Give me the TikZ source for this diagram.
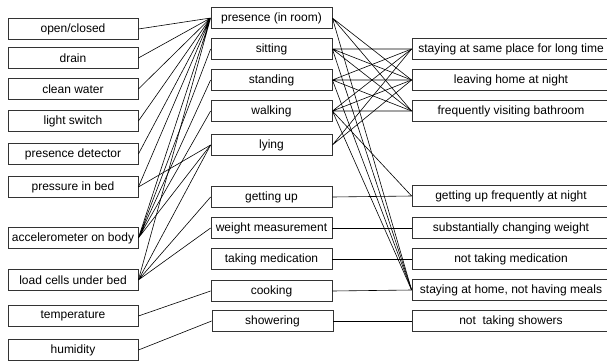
\documentclass[tikz,border=0pt]{standalone}
\usepackage{fontspec}
\setmainfont{Liberation Sans}
\usetikzlibrary{positioning}
\tikzset{
  sensor/.style   = {draw=black!80, line width=0.8pt, minimum width=130pt,
                     minimum height=21pt, inner sep=0pt, align=center,
                     font=\fontsize{12}{14}\selectfont},
  activity/.style = {sensor, minimum width=121pt},
  situation/.style= {sensor, minimum width=198pt},
  link/.style     = {draw=black, line width=0.6pt}
}
\begin{document}
\begin{tikzpicture}[x=1pt, y=-1pt]
\useasboundingbox (0,0) rectangle (607,362);

% sensors
\node[sensor] at ( 73, 29) (openclosed) {open/closed};
\node[sensor] at ( 73, 58) (drain)      {drain};
\node[sensor] at ( 73, 89) (water)      {clean water};
\node[sensor] at ( 73,121) (light)      {light switch};
\node[sensor] at ( 73,154) (pdet)       {presence detector};
\node[sensor] at ( 73,187) (bedpress)   {pressure in bed};
\node[sensor] at ( 73,238) (accel)      {accelerometer on body};
\node[sensor] at ( 73,280) (loadcell)   {load cells under bed};
\node[sensor] at ( 73,316) (temp)       {temperature};
\node[sensor] at ( 73,350) (humid)      {humidity};

% activities
\node[activity] at (271.5, 18) (presence)  {presence (in room)};
\node[activity] at (271.5, 49) (sitting)   {sitting};
\node[activity] at (271.5, 80) (standing)  {standing};
\node[activity] at (271.5,111) (walking)   {walking};
\node[activity] at (271.5,145) (lying)     {lying};
\node[activity] at (271.5,197) (gettingup) {getting up};
\node[activity] at (271.5,228) (weight)    {weight measurement};
\node[activity] at (271.5,259) (medic)     {taking medication};
\node[activity] at (271.5,291) (cooking)   {cooking};
\node[activity] at (272.5,321) (shower)    {showering};

% situations
\node[situation] at (511, 49) (sameplace) {staying at same place for long time};
\node[situation] at (511, 80) (leaving)   {leaving home at night};
\node[situation] at (511,111) (bathroom)  {frequently visiting bathroom};
\node[situation] at (511,196) (upnight)   {getting up frequently at night};
\node[situation] at (511,228) (weightchg) {substantially changing weight};
\node[situation] at (511,259) (nomedic)   {not taking medication};
\node[situation] at (511,290) (nomeals)   {staying at home, not having meals};
\node[situation] at (511,321) (noshower)  {not\ \ taking showers};

% sensors -> activities
\draw[link] (openclosed.east) -- (presence.west)
            (drain.east)      -- (presence.west)
            (water.east)      -- (presence.west)
            (light.east)      -- (presence.west)
            (pdet.east)       -- (presence.west)
            (bedpress.east)   -- (presence.west)
            (accel.east)      -- (presence.west)
            (loadcell.east)   -- (presence.west);
\draw[link] (bedpress.east) -- (lying.west);
\draw[link] (accel.east) -- (sitting.west)
            (accel.east) -- (standing.west)
            (accel.east) -- (walking.west)
            (accel.east) -- (lying.west);
\draw[link] (loadcell.east) -- (lying.west)
            (loadcell.east) -- (gettingup.west)
            (loadcell.east) -- (weight.west);
\draw[link] (temp.east)  -- (cooking.west);
\draw[link] (humid.east) -- (shower.west);

% activities -> situations
\draw[link] (presence.east) -- (leaving.west)
            (presence.east) -- (bathroom.west)
            (presence.east) -- (nomeals.west);
\draw[link] (sitting.east) -- (sameplace.west)
            (sitting.east) -- (leaving.west)
            (sitting.east) -- (bathroom.west)
            (sitting.east) -- (nomeals.west);
\draw[link] (standing.east) -- (sameplace.west)
            (standing.east) -- (leaving.west)
            (standing.east) -- (bathroom.west)
            (standing.east) -- (nomeals.west);
\draw[link] (walking.east) -- (sameplace.west)
            (walking.east) -- (leaving.west)
            (walking.east) -- (bathroom.west)
            (walking.east) -- (upnight.west)
            (walking.east) -- (nomeals.west);
\draw[link] (lying.east) -- (sameplace.west)
            (lying.east) -- (leaving.west);
\draw[link] (gettingup.east) -- (upnight.west);
\draw[link] (weight.east)    -- (weightchg.west);
\draw[link] (medic.east)     -- (nomedic.west);
\draw[link] (cooking.east)   -- (nomeals.west);
\draw[link] (shower.east)    -- (noshower.west);
\end{tikzpicture}
\end{document}
